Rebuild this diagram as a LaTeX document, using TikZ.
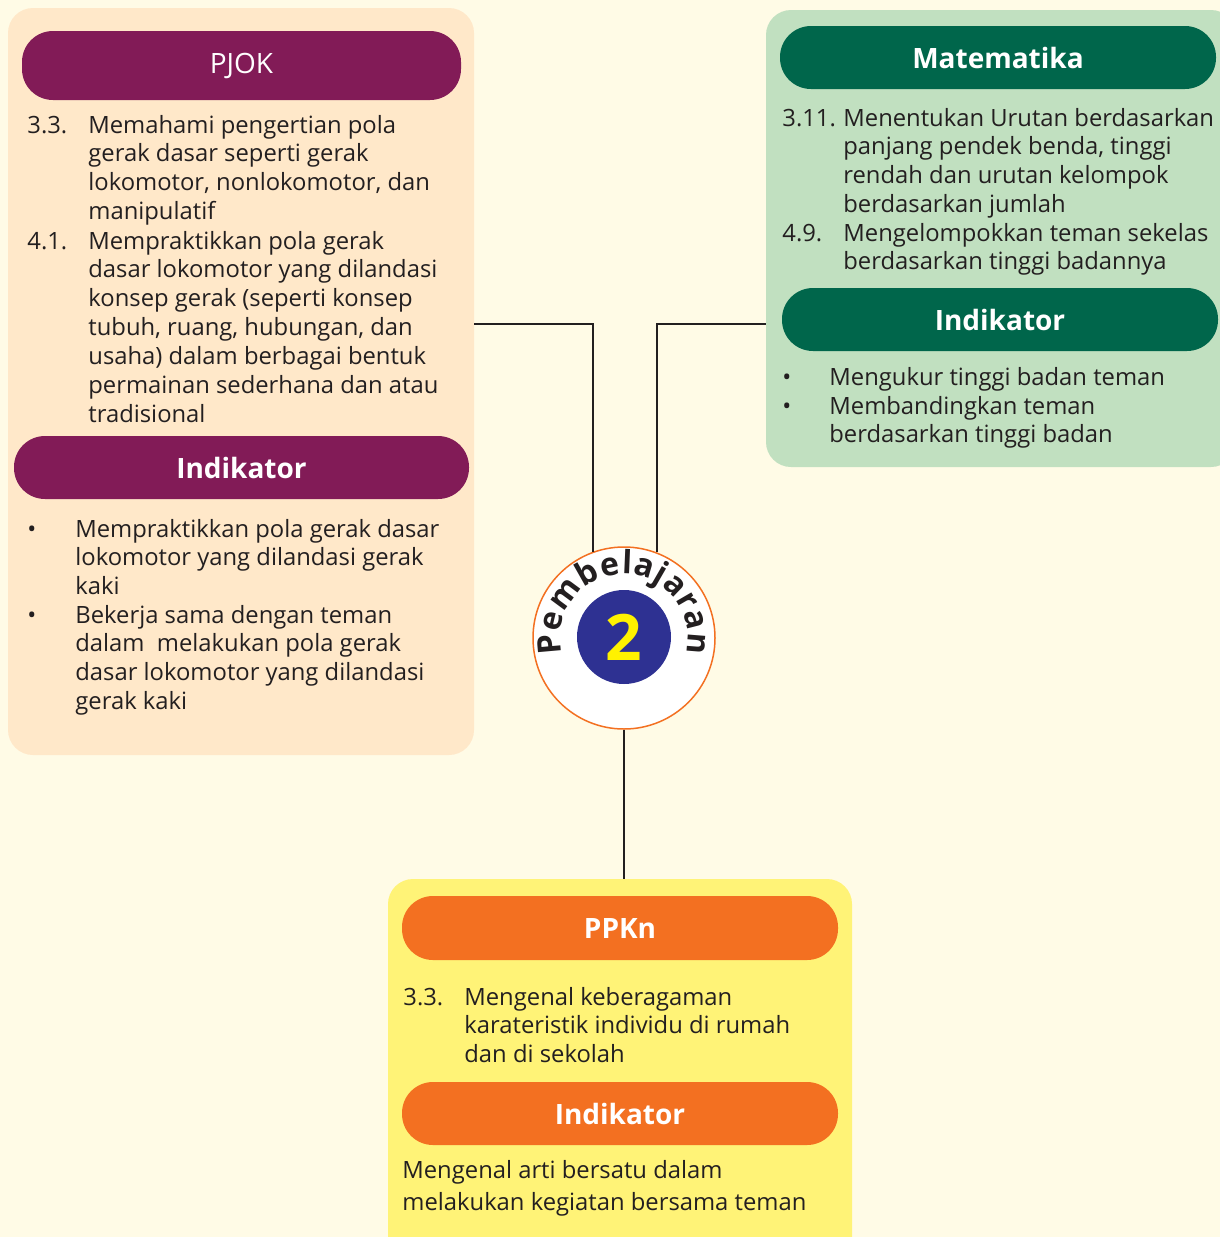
\documentclass[tikz,border=0pt]{standalone}
\usepackage{fontspec}
\setmainfont{Open Sans}
\usetikzlibrary{positioning,decorations.text}

\definecolor{cream}{HTML}{FFFBE6}
\definecolor{peach}{HTML}{FFE8C9}
\definecolor{plum}{HTML}{821B57}
\definecolor{mint}{HTML}{C1E0C0}
\definecolor{pine}{HTML}{00664B}
\definecolor{lemon}{HTML}{FFF377}
\definecolor{tangerine}{HTML}{F37021}
\definecolor{navy}{HTML}{2E3192}
\definecolor{gold}{HTML}{FFF200}
\definecolor{ink}{HTML}{231F20}
\newcommand\bodyfont{\fontsize{11.9}{14.45}\selectfont}
\newcommand\txtrows[1]{\begin{tabular}[t]{@{}l@{}}#1\end{tabular}}

\begin{document}
\begin{tikzpicture}[x=0.5pt,y=-0.5pt,
  panel/.style={rounded corners=12.5pt, inner sep=0pt},
  hd/.style={rounded corners=15.5pt, text=white, inner sep=0pt, font=\fontsize{14}{16}\selectfont\bfseries},
  tx/.style={anchor=base west, inner sep=0pt, text=ink, font=\bodyfont},
  conn/.style={line width=1.1pt, draw=ink}
]
\useasboundingbox (0,0) rectangle (1220,1237);
\clip (0,0) rectangle (1220,1237);
\fill[cream] (0,0) rectangle (1220,1237);

% panels
\node[panel, fill=peach, minimum width=233pt, minimum height=373.5pt] (pjok) at (241,381.5) {};
\node[panel, fill=mint, minimum width=235pt, minimum height=228.5pt] (mat) at (1001,238.5) {};
\node[panel, fill=lemon, minimum width=232pt, minimum height=194pt] (ppkn) at (620,1073) {};

% headers
\foreach \n/\x/\y/\w/\h/\c/\t in {
 pjokhd/241.5/65.5/219.5/34.5/plum/{\mdseries PJOK},
 pjokind/241.5/467.5/227.5/31.5/plum/Indikator,
 mathd/998/57.5/218/31.5/pine/Matematika,
 matind/1000/319.5/218/31.5/pine/Indikator,
 ppknhd/620/928/218/32/tangerine/PPKn,
 ppknind/620/1113.5/218/31.5/tangerine/Indikator}
{
 \node[hd, fill=\c, minimum width=\w pt, minimum height=\h pt] (\n) at (\x,\y) {\t};
}

% PJOK
\node[tx] (pjokno1) at (27,133) {3.3.};
\node[tx] (pjokit1) at (88,133) {\txtrows{Memahami pengertian pola\\gerak dasar seperti gerak\\lokomotor, nonlokomotor, dan\\manipulatif}};
\node[tx] (pjokno2) at (27,249) {4.1.};
\node[tx] (pjokit2) at (88,249) {\txtrows{Mempraktikkan pola gerak\\dasar lokomotor yang dilandasi\\konsep gerak (seperti konsep\\tubuh, ruang, hubungan, dan\\usaha) dalam berbagai bentuk\\permainan sederhana dan atau\\tradisional}};
\node[tx] (pjokb1) at (27,537) {•};
\node[tx] (pjokin1) at (75,537) {\txtrows{Mempraktikkan pola gerak dasar\\lokomotor yang dilandasi gerak\\kaki}};
\node[tx] (pjokb2) at (27,623) {•};
\node[tx] (pjokin2) at (75,623) {\txtrows{Bekerja sama dengan teman\\dalam~ melakukan pola gerak\\dasar lokomotor yang dilandasi\\gerak kaki}};

% Matematika
\node[tx] (matno1) at (782,126) {3.11.};
\node[tx] (matit1) at (843,126) {\txtrows{Menentukan Urutan berdasarkan\\panjang pendek benda, tinggi\\rendah dan urutan kelompok\\berdasarkan jumlah}};
\node[tx] (matno2) at (782,241) {4.9.};
\node[tx] (matit2) at (843,241) {\txtrows{Mengelompokkan teman sekelas\\berdasarkan tinggi badannya}};
\node[tx] (matb1) at (782,385) {•};
\node[tx] (matin1) at (829,385) {Mengukur tinggi badan teman};
\node[tx] (matb2) at (782,414) {•};
\node[tx] (matin2) at (829,414) {\txtrows{Membandingkan teman\\berdasarkan tinggi badan}};

% PPKn
\node[tx] (ppknno1) at (403,1005) {3.3.};
\node[tx] (ppknit1) at (464,1005) {\txtrows{Mengenal keberagaman\\karateristik individu di rumah\\dan di sekolah}};
\node[tx, font=\fontsize{11.9}{16}\selectfont] (ppknin1) at (402,1178) {\txtrows{Mengenal arti bersatu dalam\\melakukan kegiatan bersama teman}};

% centre badge
\node[circle, draw=tangerine, line width=0.75pt, fill=white, minimum size=91pt, inner sep=0pt] (pb) at (624,638) {};
\node[circle, fill=navy, minimum size=47pt, inner sep=0pt, text=gold, font=\fontsize{32}{32}\selectfont\bfseries] (num) at (624,637) {2};
\path[decorate, decoration={text along path, text align=fit to path,
  text={|\fontsize{16}{16}\selectfont\bfseries\color{ink}|Pembelajaran}}]
  (pb.center) ++(194:32pt) arc[start angle=194, end angle=-14, radius=32pt];

% connectors
\coordinate (jl) at (592,324);
\coordinate (jr) at (656,324);
\draw[conn] (pjok.east |- jl) -| (pb.110.6);
\draw[conn] (mat.west |- jr) -| (pb.69.4);
\draw[conn] (pb.south) -- (pb.south |- ppkn.north);
\end{tikzpicture}
\end{document}
